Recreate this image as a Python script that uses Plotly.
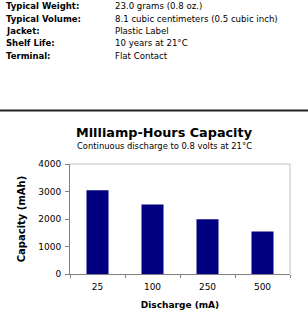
import plotly.graph_objects as go

spec_labels = ["Typical Weight:", "Typical Volume:", "Jacket:", "Shelf Life:", "Terminal:"]
spec_values = ["23.0 grams (0.8 oz.)", "8.1 cubic centimeters (0.5 cubic inch)",
               "Plastic Label", "10 years at 21°C", "Flat Contact"]
categories = ["25", "100", "250", "500"]
capacity = [3050, 2530, 1990, 1550]
y_ticks = [0, 1000, 2000, 3000, 4000]

W, H = 308, 320
L, R, T, B = 70, 18, 164, 46
PW, PH = W - L - R, H - T - B

def px(x):
    return (x - L) / PW

def py(y):
    return (H - B - y) / PH

FONT = "DejaVu Sans"

fig = go.Figure(go.Bar(x=categories, y=capacity, marker=dict(color="#000080", line=dict(width=0)),
                       width=0.4))

ann = []
row_y = [6.3, 18.5, 30.8, 43, 55.6]
for lab, val, yy in zip(spec_labels, spec_values, row_y):
    ann.append(dict(x=px(4), y=py(yy), xref="paper", yref="paper", text="<b>" + lab + "</b>",
                    showarrow=False, xanchor="left", yanchor="middle",
                    font=dict(family=FONT, size=8.5, color="#000")))
    ann.append(dict(x=px(113), y=py(yy), xref="paper", yref="paper", text=val,
                    showarrow=False, xanchor="left", yanchor="middle",
                    font=dict(family=FONT, size=8.6, color="#000")))

ann.append(dict(x=px(164), y=py(132.5), xref="paper", yref="paper",
                text="<b>Milliamp-Hours Capacity</b>", showarrow=False,
                xanchor="center", yanchor="middle", font=dict(family=FONT, size=12.8, color="#000")))
ann.append(dict(x=px(164.5), y=py(146), xref="paper", yref="paper",
                text="Continuous discharge to 0.8 volts at 21°C", showarrow=False,
                xanchor="center", yanchor="middle", font=dict(family=FONT, size=8.4, color="#000")))

shapes = [
    dict(type="line", xref="paper", yref="paper", x0=px(0), x1=px(308), y0=py(110.5), y1=py(110.5),
         line=dict(color="#222", width=2)),
    dict(type="line", xref="paper", yref="paper", x0=0, x1=1, y0=1, y1=1,
         line=dict(color="#c0c0c0", width=1)),
    dict(type="line", xref="paper", yref="paper", x0=1, x1=1, y0=0, y1=1,
         line=dict(color="#c0c0c0", width=1)),
]

fig.update_layout(
    width=W, height=H, margin=dict(l=L, r=R, t=T, b=B),
    paper_bgcolor="white", plot_bgcolor="white",
    showlegend=False, annotations=ann, shapes=shapes,
    font=dict(family=FONT, size=9, color="#000"),
    xaxis=dict(type="category", tickson="boundaries", ticks="outside", ticklen=3,
               tickcolor="#808080", showline=True, linecolor="#808080", linewidth=1,
               showgrid=False, tickfont=dict(family=FONT, size=9), ticklabelstandoff=4,
               title=dict(text="<b>Discharge (mA)</b>", font=dict(family=FONT, size=9), standoff=10)),
    yaxis=dict(range=[0, 4000], tickvals=y_ticks, ticks="outside", ticklen=4,
               tickcolor="#808080", showline=True, linecolor="#808080", linewidth=1,
               showgrid=False, zeroline=False, tickfont=dict(family=FONT, size=9),
               ticklabelstandoff=2,
               title=dict(text="<b>Capacity (mAh)</b>", font=dict(family=FONT, size=10), standoff=10)),
)

fig.write_html("out.html")
